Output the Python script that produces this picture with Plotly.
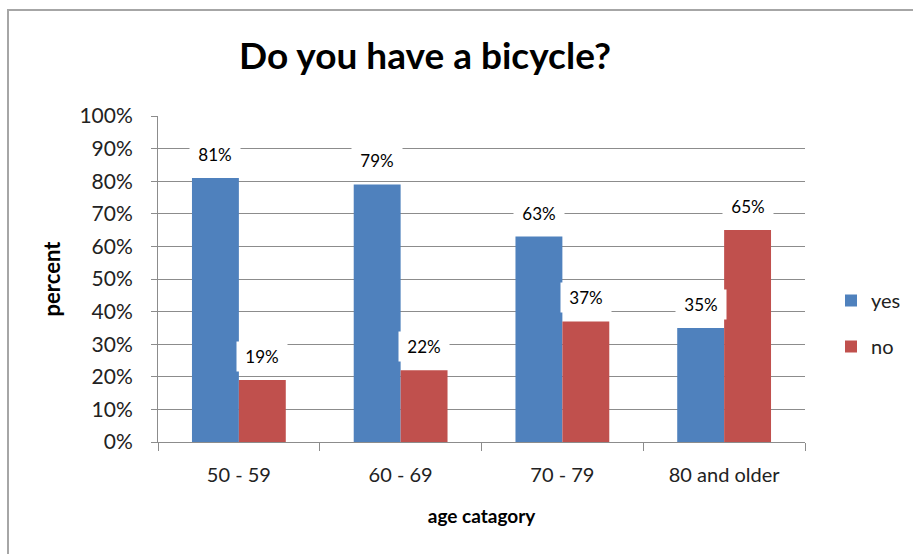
import plotly.graph_objects as go

# Survey results: share of respondents owning a bicycle, by age group
categories = ["50 - 59", "60 - 69", "70 - 79", "80 and older"]
yes_pct = [81, 79, 63, 35]
no_pct = [19, 22, 37, 65]
y_ticks = list(range(0, 101, 10))

BLUE = "#4F81BD"
RED = "#C0504D"
GRID = "#8c8c8c"
FONT = "Lato"

# Plot-area geometry in pixels (figure is 913 x 554)
W, H = 913, 554
L, R, T, B = 158, 108, 116, 112
PW, PH = W - L - R, H - T - B

BARGAP = 0.42
bar_w = (1 - BARGAP) / 2  # width of one bar in category units

fig = go.Figure()
fig.add_trace(go.Bar(x=categories, y=yes_pct, name="yes", marker_color=BLUE,
                     marker_line_width=0, legendgroup="yes"))
fig.add_trace(go.Bar(x=categories, y=no_pct, name="no", marker_color=RED,
                     marker_line_width=0, legendgroup="no"))

# Value labels on white boxes just above each bar
annotations = []
for series, shift in ((yes_pct, -bar_w / 2), (no_pct, bar_w / 2)):
    for i, v in enumerate(series):
        annotations.append(dict(
            x=i + shift, y=v, xref="x", yref="y", text=f"{v}%",
            showarrow=False, yanchor="bottom", yshift=8,
            bgcolor="white", width=42, height=21, borderpad=4,
            font=dict(family=FONT, size=17, color="black"),
        ))

def px_x(px):
    return (px - L) / PW

def px_y(py):
    return (H - B - py) / PH

# Open frame along the left and top edges of the chart
shapes = [dict(type="rect", xref="paper", yref="paper",
               x0=px_x(8), x1=px_x(W + 4), y0=px_y(H + 4), y1=px_y(10),
               line=dict(color="#a6a6a6", width=2), layer="below")]

fig.update_layout(
    width=W, height=H,
    margin=dict(l=L, r=R, t=T, b=B, autoexpand=False),
    paper_bgcolor="white", plot_bgcolor="white",
    barmode="group", bargap=BARGAP, bargroupgap=0,
    title=dict(text="<b>Do you have a bicycle?</b>", x=425 / W, xanchor="center",
               y=1 - 56 / H, yanchor="middle",
               font=dict(family=FONT, size=37, color="black")),
    font=dict(family=FONT, color="black"),
    xaxis=dict(
        type="category", showline=True, linecolor=GRID, linewidth=1,
        ticks="outside", tickson="boundaries", ticklen=8, tickcolor=GRID,
        ticklabelstandoff=15,
        tickfont=dict(family=FONT, size=20, color="#222"),
        title=dict(text="<b>age catagory</b>", standoff=24,
                   font=dict(family=FONT, size=19, color="black")),
        showgrid=False, mirror=False,
    ),
    yaxis=dict(
        range=[0, 100], tickvals=y_ticks, ticktext=[f"{t}%" for t in y_ticks],
        showline=True, linecolor=GRID, linewidth=1,
        ticks="outside", ticklen=6, tickcolor=GRID,
        ticklabelstandoff=14,
        showgrid=True, gridcolor=GRID, gridwidth=1,
        tickfont=dict(family=FONT, size=21, color="#222"),
        title=dict(text="<b>percent</b>", standoff=12,
                   font=dict(family=FONT, size=22, color="black")),
        zeroline=False,
    ),
    legend=dict(x=px_x(831), y=px_y(281), xanchor="left", yanchor="top",
                font=dict(family=FONT, size=20, color="#222"),
                tracegroupgap=17, bgcolor="rgba(0,0,0,0)"),
    annotations=annotations,
    shapes=shapes,
)

fig.write_html("out.html")
